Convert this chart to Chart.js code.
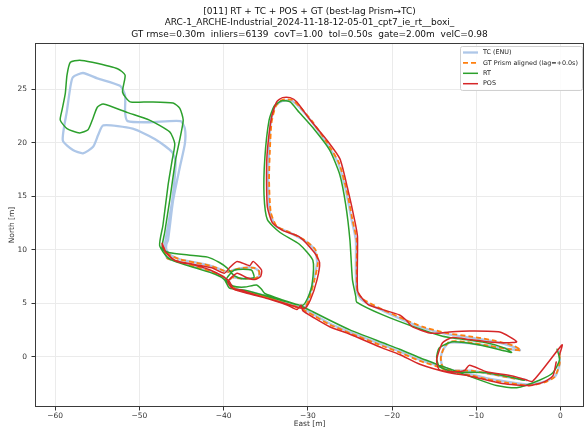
<!DOCTYPE html>
<html><head><meta charset="utf-8">
<script src="https://cdn.jsdelivr.net/npm/chart.js@4.4.0/dist/chart.umd.min.js"></script>
<style>html,body{margin:0;padding:0;background:#fff;overflow:hidden}</style>
</head><body>
<canvas id="c" width="585" height="429"></canvas>
<script>
const titleLines = [
  "[011] RT + TC + POS + GT (best-lag Prism\u2192TC)",
  "ARC-1_ARCHE-Industrial_2024-11-18-12-05-01_cpt7_ie_rt__boxi_",
  "GT rmse=0.30m  inliers=6139  covT=1.00  tol=0.50s  gate=2.00m  velC=0.98"
];
const seriesNames = ["TC (ENU)", "GT Prism aligned (lag=+0.0s)", "RT", "POS"];
const xTickVals = [-60, -50, -40, -30, -20, -10, 0];
const yTickVals = [0, 5, 10, 15, 20, 25];

// TC (ENU)
const tcX = [-0.1,-0.1,-0.6,-1.8,-3.7,-6.6,-8.8,-10.8,-12.8,-14.7,-16.7,-19.1,-21.1,-25.0,-27.4,-29.2,-30.6,-32.4,-35.1,-37.1,-38.7,-39.4,
  -39.0,-37.9,-36.4,-35.8,-35.8,-36.4,-37.7,-38.8,-39.5,
  -40.2,-41.6,-43.4,-45.2,-46.3,-46.8,-46.8,
  -46.6,-46.0,-45.2,-44.6,-44.6,-45.1,-48.8,-51.4,-51.7,-51.7,-52.3,-55.0,-56.7,-57.9,-58.2,-58.6,-59.1,-57.9,-56.7,-55.5,-54.9,-54.3,-50.8,-47.9,-46.1,-45.7,-46.1,-46.7,-47.0,
  -46.7,-45.4,-43.4,-41.3,-39.9,-39.3,-38.1,-35.1,-32.4,-30.4,
  -29.9,-29.3,-28.9,-29.2,-30.5,-32.2,-33.8,-34.5,-34.7,-34.6,-34.4,-33.9,-33.0,-31.9,-31.0,-29.6,-27.9,-26.4,-25.5,-24.8,-24.3,-24.3,-24.2,-23.6,-21.1,-18.3,-16.4,-13.5,
  -10.8,-7.8,-5.5,-4.8,-6.0,-8.4,-11.4,-13.2,
  -13.9,-14.2,-14.0,
  -12.6,-10.6,-8.4,-5.7,-4.0];
const tcY = [0.5,-0.7,-1.8,-2.3,-2.6,-2.3,-2.0,-1.6,-1.4,-0.8,-0.3,0.5,1.1,2.3,3.1,3.9,4.5,5.0,5.7,6.1,6.4,7.0,
  7.4,7.3,7.3,7.5,8.0,8.3,8.3,8.1,7.9,
  8.1,8.5,8.8,9.1,9.5,10.0,10.5,
  10.9,14.6,17.7,19.9,21.3,22.0,21.9,22.0,22.8,24.4,25.3,26.0,26.5,26.1,25.2,23.0,20.2,19.3,19.0,19.6,20.7,21.6,21.3,20.2,19.1,18.2,14.6,11.8,10.2,
  9.2,8.9,8.4,7.9,7.4,6.7,6.2,5.6,4.9,4.6,
  5.5,7.2,8.8,10.0,10.9,11.6,12.2,13.5,16.5,19.3,21.9,23.4,23.9,23.9,23.3,22.0,20.1,18.1,15.6,12.8,10.9,8.1,6.1,5.3,4.3,3.3,2.7,2.1,
  1.8,1.4,0.9,0.6,0.7,1.0,1.3,1.3,
  0.7,-0.1,-0.9,
  -1.3,-1.3,-1.6,-2.0,-2.2];

// GT Prism aligned
const gtX = [-0.1,-0.1,-0.7,-1.9,-3.7,-6.6,-8.8,-10.8,-12.8,-14.7,-16.7,-19.1,-21.1,-25.0,-27.4,-29.2,-30.6,-32.4,-35.1,-37.1,-38.7,-39.4,
  -39.0,-37.9,-36.4,-35.8,-35.8,-36.4,-37.7,-38.8,-39.5,
  -40.2,-41.6,-43.4,-45.2,-46.4,-47.0,-47.2,
  -46.7,-45.4,-43.4,-41.3,-39.9,-39.3,-38.1,-35.1,-32.4,-30.4,
  -29.8,-29.2,-28.8,-29.1,-30.4,-32.1,-33.7,-34.4,-34.6,-34.5,-34.3,-33.8,-33.0,-31.9,-31.0,-29.5,-27.8,-26.3,-25.4,-24.7,-24.2,-24.2,-24.1,-23.5,-21.1,-18.3,-16.4,-13.5,
  -10.8,-7.8,-5.5,-4.7,-6.0,-8.4,-11.4,-13.2,
  -13.9,-14.2,-14.0,
  -12.6,-10.6,-8.4,-5.7,-4.0];
const gtY = [0.3,-0.7,-1.9,-2.4,-2.7,-2.4,-2.1,-1.7,-1.5,-0.9,-0.4,0.4,1.0,2.2,3.0,3.8,4.4,4.9,5.6,6.0,6.3,6.9,
  7.4,7.3,7.3,7.5,8.0,8.3,8.3,8.1,7.9,
  8.1,8.5,8.8,9.1,9.5,10.0,10.3,
  9.2,8.9,8.4,7.9,7.4,6.7,6.2,5.6,4.9,4.6,
  5.5,7.2,8.8,10.0,10.9,11.6,12.2,13.5,16.5,19.3,21.9,23.4,24.0,24.0,23.4,22.0,20.1,18.1,15.6,12.8,10.9,8.1,6.1,5.4,4.4,3.4,2.8,2.2,
  1.9,1.5,1.0,0.6,0.7,1.0,1.4,1.4,
  0.7,-0.1,-0.9,
  -1.3,-1.3,-1.6,-2.0,-2.2];

// RT
const rtX = [-0.4,-0.1,-0.9,-2.5,-5.2,-7.6,-10.2,-12.6,-14.7,-16.7,-19.1,-21.1,-25.0,-27.4,-29.4,-31.0,-33.0,-35.1,-35.5,-36.1,-37.5,-38.9,-39.7,
  -38.7,-36.7,-36.4,-37.9,-38.8,
  -39.6,-40.5,-41.9,-44.2,-46.4,-47.3,
  -47.0,-46.4,-45.7,-45.1,-44.8,-45.2,-46.0,-48.8,-51.1,-52.0,-51.7,-52.6,-55.6,-57.1,-58.2,-58.6,-58.8,-59.2,-59.4,-58.6,-57.1,-56.1,-55.5,-55.0,-54.3,-51.4,-48.8,-46.4,-45.8,-46.1,-46.6,-47.2,-47.6,
  -46.7,-45.8,-43.4,-41.0,-39.9,-39.3,-37.5,-35.1,-32.4,-30.6,
  -30.0,-29.5,-29.4,-31.0,-33.3,-34.8,-35.2,-35.1,-34.6,-34.0,-33.1,-32.1,-31.0,-29.2,-27.4,-26.2,-25.5,-25.0,-24.7,-24.3,-24.2,-21.1,-17.1,-14.0,
  -13.2,-8.8,-6.6,-5.8,-6.4,-9.6,-12.8,
  -14.4,-14.7,-14.4,
  -12.8,-8.8,-6.0,-4.3];
const rtY = [0.7,-0.3,-1.5,-2.2,-2.9,-2.7,-2.0,-1.3,-0.7,-0.1,0.7,1.3,2.5,3.4,4.2,4.8,5.3,5.9,6.3,6.7,6.5,6.6,7.2,
  8.1,8.1,7.4,7.3,7.6,
  8.3,8.8,9.3,9.5,9.7,10.1,
  11.6,14.6,18.4,20.7,22.1,23.2,23.7,23.8,23.8,24.7,26.3,26.9,27.5,27.7,27.5,26.3,24.6,23.0,22.1,21.3,20.9,21.2,22.3,23.3,23.6,22.8,22.1,21.0,19.9,18.4,16.0,12.3,10.4,
  9.3,8.9,8.3,7.7,7.2,6.4,6.2,5.7,5.1,4.8,
  5.5,6.7,9.0,10.5,11.6,12.8,15.1,18.6,22.1,23.4,23.9,23.8,22.8,21.2,19.3,17.0,14.2,10.9,7.2,5.6,5.1,3.9,2.7,1.9,
  1.8,1.3,0.8,0.4,0.5,1.1,1.4,
  0.8,-0.1,-0.9,
  -1.4,-1.5,-1.9,-2.2];

// POS
const posX = [-0.5,-0.9,-2.1,-3.7,-6.9,-10.8,-13.2,-16.7,-19.1,-21.1,-25.0,-27.4,-29.2,-30.6,-30.8,-31.3,-32.4,-35.1,-37.1,-37.8,-39.0,-39.5,
  -38.4,-37.3,-36.3,-35.6,-35.5,-36.5,-36.9,-38.4,-39.3,
  -39.9,-41.4,-43.4,-45.8,-46.6,-47.2,-47.3,
  -46.9,-45.6,-43.7,-41.6,-40.1,-39.3,-38.8,-37.1,-35.1,-32.4,-30.4,
  -29.7,-28.9,-28.6,-29.2,-31.0,-33.0,-34.2,-34.8,-34.9,-34.8,-34.3,-33.7,-33.0,-32.1,-31.3,-29.8,-27.8,-26.2,-25.3,-24.4,-24.1,-24.1,-23.6,-22.7,-19.1,-18.3,-17.6,-15.5,-14.4,
  -13.2,-10.8,-7.2,-5.2,-6.4,-8.8,-10.8,-12.8,
  -14.0,-14.7,-14.4,
  -12.8,-11.4,-10.8,-8.8,-5.7,-4.3,-3.3,0.2,-0.1];
const posY = [-0.5,-1.8,-2.4,-2.7,-2.5,-1.8,-1.5,-0.7,0.2,0.8,2.1,2.8,3.6,4.3,4.8,4.4,4.8,5.5,6.0,6.2,6.4,7.0,
  7.8,7.4,7.2,7.5,8.1,8.9,8.5,8.9,8.3,
  7.8,8.3,8.6,9.0,9.5,10.2,10.6,
  9.8,8.9,8.6,8.1,7.5,7.0,6.3,5.9,5.5,4.9,4.5,
  5.3,7.2,8.8,9.7,11.2,11.8,12.5,14.0,17.1,19.3,22.4,23.8,24.2,24.2,23.8,22.2,20.3,18.5,15.8,12.6,11.2,6.2,5.5,4.8,3.9,3.4,2.8,2.2,2.2,
  2.3,2.4,2.3,1.4,1.3,1.4,1.6,1.8,
  1.3,-0.3,-1.2,
  -1.4,-1.3,-0.8,-1.4,-1.8,-2.1,-2.3,1.1,0.2];

const pts = (xs, ys) => xs.slice(0, Math.min(xs.length, ys.length)).map((x, i) => ({x: x, y: ys[i]}));
const fmt = v => (v < 0 ? "\u2212" + Math.abs(v) : String(v));
const FONT = "DejaVu Sans";

const framePlugin = {
  id: "frame",
  afterDatasetsDraw(chart) {
    const {ctx, chartArea: a} = chart;
    ctx.save();
    ctx.strokeStyle = "#3a3a3a";
    ctx.lineWidth = 1;
    ctx.strokeRect(Math.round(a.left) + 0.5, Math.round(a.top) + 0.5,
                   Math.round(a.right - a.left) - 1, Math.round(a.bottom - a.top) - 1);
    ctx.restore();
  }
};

const legendPlugin = {
  id: "legendBox",
  afterDraw(chart) {
    const ctx = chart.ctx, a = chart.chartArea;
    const x0 = a.right - 124, y0 = a.top + 3, w = 122, h = 44;
    ctx.save();
    ctx.beginPath();
    if (ctx.roundRect) ctx.roundRect(x0 + 0.5, y0 + 0.5, w, h, 2); else ctx.rect(x0 + 0.5, y0 + 0.5, w, h);
    ctx.fillStyle = "rgba(255,255,255,0.85)";
    ctx.fill();
    ctx.strokeStyle = "#d0d0d0";
    ctx.lineWidth = 1;
    ctx.stroke();
    ctx.font = '6.4px "' + FONT + '"';
    ctx.textBaseline = "middle";
    chart.data.datasets.forEach((ds, i) => {
      const y = y0 + 6.5 + i * 10.4;
      ctx.strokeStyle = ds.borderColor;
      ctx.lineWidth = ds.borderWidth;
      ctx.setLineDash(ds.borderDash || []);
      ctx.beginPath();
      ctx.moveTo(x0 + 3, y);
      ctx.lineTo(x0 + 18, y);
      ctx.stroke();
      ctx.setLineDash([]);
      ctx.fillStyle = "#222";
      ctx.fillText(ds.label, x0 + 23, y);
    });
    ctx.restore();
  }
};

const common = {showLine: true, pointRadius: 0, pointHoverRadius: 0, fill: false, tension: 0.2,
  borderJoinStyle: "round", borderCapStyle: "round"};

new Chart(document.getElementById("c"), {
  type: "scatter",
  data: {
    datasets: [
      Object.assign({label: seriesNames[0], data: pts(tcX, tcY), borderColor: "#aec7e8", borderWidth: 2.3, order: 4}, common),
      Object.assign({label: seriesNames[1], data: pts(gtX, gtY), borderColor: "#ff7f0e", borderWidth: 1.8, borderDash: [5, 3], order: 3}, common, {borderCapStyle: "butt"}),
      Object.assign({label: seriesNames[2], data: pts(rtX, rtY), borderColor: "#2ca02c", borderWidth: 1.5, order: 2}, common),
      Object.assign({label: seriesNames[3], data: pts(posX, posY), borderColor: "#d62728", borderWidth: 1.5, order: 1}, common)
    ]
  },
  options: {
    responsive: false,
    animation: false,
    devicePixelRatio: 1,
    layout: {padding: {left: 0, right: 1, top: 0, bottom: 0}},
    plugins: {
      legend: {display: false},
      tooltip: {enabled: false},
      title: {
        display: true, fullSize: false, text: titleLines, color: "#111",
        font: {family: FONT, size: 9, weight: "normal", lineHeight: 1.278},
        padding: {top: 5.75, bottom: 2.75}
      }
    },
    scales: {
      x: {
        type: "linear", min: -62.4, max: 2.8,
        afterBuildTicks: s => { s.ticks = xTickVals.map(v => ({value: v})); },
        afterFit: s => { s.height = 22; },
        ticks: {font: {family: FONT, size: 7.5}, color: "#333", padding: 1, maxRotation: 0, autoSkip: false, callback: fmt},
        grid: {color: "#ebebeb", tickColor: "#333", tickLength: 3.5, lineWidth: 1},
        border: {display: false},
        title: {display: true, text: "East [m]", color: "#333", font: {family: FONT, size: 7.5}, padding: {top: 0, bottom: 0}}
      },
      y: {
        type: "linear", min: -4.7, max: 29.3,
        afterBuildTicks: s => { s.ticks = yTickVals.map(v => ({value: v})); },
        afterFit: s => { s.width = 35; },
        ticks: {font: {family: FONT, size: 7.5}, color: "#333", padding: 4.5, autoSkip: false, callback: fmt},
        grid: {color: "#ebebeb", tickColor: "#333", tickLength: 3.5, lineWidth: 1},
        border: {display: false},
        title: {display: true, text: "North [m]", color: "#333", font: {family: FONT, size: 7.5}, padding: {top: 7.5, bottom: 0}}
      }
    }
  },
  plugins: [framePlugin, legendPlugin]
});
</script>
</body></html>
